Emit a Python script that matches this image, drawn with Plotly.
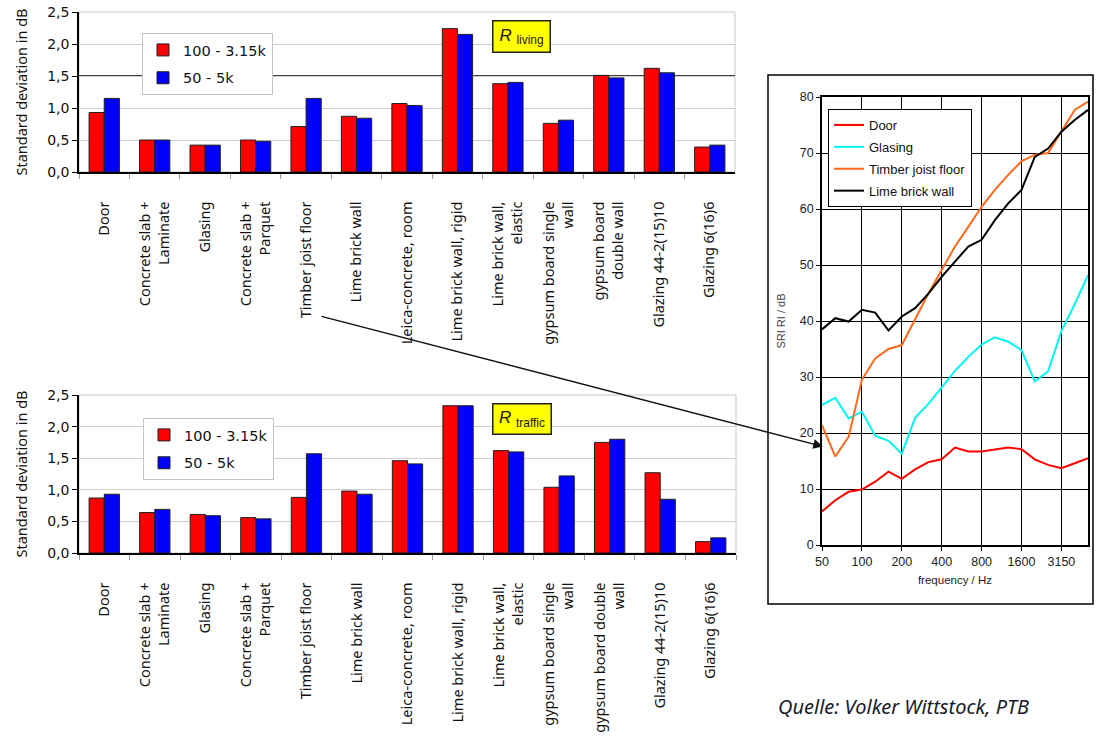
import plotly.graph_objects as go

W, H = 1097, 751

# ---- bar charts: standard deviation of the single-number ratings ----
categories_living = [
    "Door", "Concrete slab +<br>Laminate", "Glasing", "Concrete slab +<br>Parquet",
    "Timber joist floor", "Lime brick wall", "Leica-concrete, room",
    "Lime brick wall, rigid", "Lime brick wall,<br>elastic", "gypsum board single<br>wall",
    "gypsum board<br>double wall", "Glazing 44-2(15)10", "Glazing 6(16)6",
]
categories_traffic = [
    "Door", "Concrete slab +<br>Laminate", "Glasing", "Concrete slab +<br>Parquet",
    "Timber joist floor", "Lime brick wall", "Leica-concrete, room",
    "Lime brick wall, rigid", "Lime brick wall,<br>elastic", "gypsum board single<br>wall",
    "gypsum board double<br>wall", "Glazing 44-2(15)10", "Glazing 6(16)6",
]
living_100_3150 = [0.93, 0.50, 0.42, 0.50, 0.71, 0.87, 1.07, 2.24, 1.38, 0.76, 1.51, 1.62, 0.39]
living_50_5000 = [1.15, 0.50, 0.42, 0.48, 1.15, 0.84, 1.04, 2.15, 1.40, 0.81, 1.47, 1.55, 0.42]
traffic_100_3150 = [0.87, 0.64, 0.61, 0.56, 0.88, 0.98, 1.46, 2.33, 1.62, 1.04, 1.75, 1.27, 0.18]
traffic_50_5000 = [0.93, 0.69, 0.59, 0.54, 1.57, 0.93, 1.41, 2.33, 1.60, 1.22, 1.80, 0.85, 0.24]
range_names = ["100 - 3.15k", "50 - 5k"]
y_ticks = [0, 0.5, 1.0, 1.5, 2.0, 2.5]

# ---- sound reduction index curves ----
freq_bands = ["50", "63", "80", "100", "125", "160", "200", "250", "315", "400", "500",
              "630", "800", "1000", "1250", "1600", "2000", "2500", "3150", "4000", "5000"]
freq_tick_labels = ["50", "100", "200", "400", "800", "1600", "3150"]
sri_door = [6.0, 8.0, 9.5, 9.9, 11.3, 13.1, 11.8, 13.5, 14.8, 15.3, 17.4, 16.7, 16.7,
            17.1, 17.4, 17.1, 15.3, 14.3, 13.7, 14.6, 15.5]
sri_glasing = [25.0, 26.3, 22.6, 23.8, 19.5, 18.6, 16.3, 22.7, 25.2, 28.1, 31.1, 33.6, 35.8,
               37.1, 36.3, 34.8, 29.2, 31.0, 38.2, 43.0, 48.2]
sri_timber = [21.4, 15.8, 19.3, 29.5, 33.3, 35.0, 35.7, 40.2, 44.9, 49.1, 53.3, 56.8, 60.4,
              63.4, 66.1, 68.5, 69.7, 70.0, 73.8, 77.7, 79.2]
sri_lime = [38.5, 40.5, 39.9, 42.0, 41.5, 38.3, 40.8, 42.3, 44.9, 47.9, 50.6, 53.3, 54.5,
            58.0, 61.0, 63.4, 69.3, 70.8, 73.8, 75.9, 77.7]
sri_names = ["Door", "Glasing", "Timber joist floor", "Lime brick wall"]
sri_colors = ["#ff0000", "#00f5f5", "#ff6a1a", "#000000"]

RED, BLUE = "#ff0000", "#0000ff"

fig = go.Figure()

for cats, vals, color, name, xa, ya, leg, grp in [
    (categories_living, living_100_3150, RED, range_names[0], "x", "y", "legend", "a"),
    (categories_living, living_50_5000, BLUE, range_names[1], "x", "y", "legend", "b"),
    (categories_traffic, traffic_100_3150, RED, range_names[0], "x2", "y2", "legend2", "c"),
    (categories_traffic, traffic_50_5000, BLUE, range_names[1], "x2", "y2", "legend2", "d"),
]:
    fig.add_trace(go.Bar(
        x=cats, y=vals, name=name, xaxis=xa, yaxis=ya, legend=leg, legendgroup=grp,
        marker=dict(color=color, line=dict(color="#202020", width=1)),
    ))

for vals, name, color in zip([sri_door, sri_glasing, sri_timber, sri_lime], sri_names, sri_colors):
    fig.add_trace(go.Scatter(
        x=freq_bands, y=vals, name=name, mode="lines", xaxis="x3", yaxis="y3",
        legend="legend3", legendgroup=name, line=dict(color=color, width=2),
    ))

label_font = dict(family="Noto Sans", size=14.5, color="#111")
num_font = dict(family="DejaVu Sans", size=14, color="#111")


def bar_xaxis(domain, anchor):
    return dict(domain=domain, anchor=anchor, type="category", tickangle=-90,
                tickfont=label_font, showline=True, linecolor="#000", linewidth=1.5,
                ticks="outside", tickson="boundaries", ticklen=5, tickcolor="#999",
                ticklabelstandoff=22, automargin=False, showgrid=False)


def bar_yaxis(domain, anchor):
    return dict(domain=domain, anchor=anchor, range=[0, 2.5], tickvals=y_ticks,
                tickformat=".1f", tickfont=num_font, showline=True, linecolor="#000",
                linewidth=1.5, ticks="outside", ticklen=5, tickcolor="#000",
                showgrid=True, gridcolor="#cfcfcf", gridwidth=1, zeroline=False,
                automargin=False,
                title=dict(text="Standard deviation in dB", standoff=16,
                           font=dict(family="Noto Sans", size=14.5, color="#111")))


fig.update_layout(
    width=W, height=H, margin=dict(l=0, r=0, t=0, b=0),
    paper_bgcolor="white", plot_bgcolor="white",
    separators=",.", barmode="group", bargap=0.4, bargroupgap=0,
    showlegend=True,
    xaxis=bar_xaxis([79 / W, 735 / W], "y"),
    yaxis=bar_yaxis([1 - 172 / H, 1 - 12 / H], "x"),
    xaxis2=bar_xaxis([79 / W, 736 / W], "y2"),
    yaxis2=bar_yaxis([1 - 553 / H, 1 - 395 / H], "x2"),
    xaxis3=dict(domain=[822 / W, 1088 / W], anchor="y3", type="category",
                range=[0, 20], tickvals=freq_tick_labels, ticktext=freq_tick_labels,
                tickfont=dict(family="Liberation Sans", size=12.5, color="#222"),
                showline=True, mirror=True, linecolor="#000", linewidth=1.5,
                ticks="outside", ticklen=4, tickcolor="#000",
                showgrid=True, gridcolor="#000", gridwidth=1.3, automargin=False,
                title=dict(text="frequency / Hz", standoff=8,
                           font=dict(family="Liberation Sans", size=11.5, color="#222"))),
    yaxis3=dict(domain=[1 - 545 / H, 1 - 97 / H], anchor="x3", range=[0, 80], dtick=10,
                tickfont=dict(family="Liberation Sans", size=12.5, color="#222"),
                showline=True, mirror=True, linecolor="#000", linewidth=1.5,
                ticks="outside", ticklen=4, tickcolor="#000",
                showgrid=True, gridcolor="#000", gridwidth=1.3, zeroline=False,
                automargin=False,
                title=dict(text="SRI RI / dB", standoff=12,
                           font=dict(family="Liberation Sans", size=11, color="#444"))),
    legend=dict(x=142 / W, y=1 - 33 / H, xanchor="left", yanchor="top",
                bgcolor="white", bordercolor="#c4c4c4", borderwidth=1,
                font=dict(family="DejaVu Sans", size=14.5, color="#111"),
                traceorder="grouped", itemwidth=30, tracegroupgap=6),
    legend2=dict(x=143 / W, y=1 - 418 / H, xanchor="left", yanchor="top",
                 bgcolor="white", bordercolor="#c4c4c4", borderwidth=1,
                 font=dict(family="DejaVu Sans", size=14.5, color="#111"),
                 traceorder="grouped", itemwidth=30, tracegroupgap=6),
    legend3=dict(x=828 / W, y=1 - 109 / H, xanchor="left", yanchor="top",
                 bgcolor="white", bordercolor="#000", borderwidth=1,
                 font=dict(family="Liberation Sans", size=13, color="#111"),
                 traceorder="grouped", itemwidth=30, tracegroupgap=2),
)

shapes = [
    # light frame of the bar plot areas
    dict(type="rect", xref="x domain", yref="y domain", x0=0, x1=1, y0=0, y1=1,
         line=dict(color="#c8c8c8", width=1), layer="below"),
    dict(type="rect", xref="x2 domain", yref="y2 domain", x0=0, x1=1, y0=0, y1=1,
         line=dict(color="#c8c8c8", width=1), layer="below"),
    # 1.5 dB reference line in the upper chart
    dict(type="line", xref="x domain", yref="y", x0=0, x1=1, y0=1.5, y1=1.5,
         line=dict(color="#000", width=1.5), layer="below"),
    # frame round the SRI chart
    dict(type="rect", xref="paper", yref="paper", x0=768 / W, x1=1093 / W,
         y0=1 - 604 / H, y1=1 - 75 / H, line=dict(color="#000", width=1.5)),
]
fig.update_layout(shapes=shapes)

tag_font = dict(family="Liberation Sans", size=17, color="#1a1a00")
annotations = [
    dict(text="<i>R</i> <sub>living</sub>", xref="paper", yref="paper",
         x=521 / W, y=1 - 37 / H, xanchor="center", yanchor="middle", showarrow=False,
         bgcolor="#ffff00", bordercolor="#222", borderwidth=1.5, borderpad=3,
         font=tag_font, width=50, height=24),
    dict(text="<i>R</i> <sub>traffic</sub>", xref="paper", yref="paper",
         x=522 / W, y=1 - 419.5 / H, xanchor="center", yanchor="middle", showarrow=False,
         bgcolor="#ffff00", bordercolor="#222", borderwidth=1.5, borderpad=3,
         font=tag_font, width=51, height=23),
    # pointer from the timber joist floor bars to its SRI curve
    dict(text="", xref="paper", yref="paper", x=823 / W, y=1 - 446.5 / H,
         ax=320 - 823, ay=316 - 446.5, axref="pixel", ayref="pixel",
         showarrow=True, arrowhead=2, arrowsize=1.3, arrowwidth=1.5, arrowcolor="#111",
         standoff=0),
    dict(text="Quelle: Volker Wittstock, PTB", xref="paper", yref="paper",
         x=776 / W, y=1 - 706 / H, xanchor="left", yanchor="middle", showarrow=False,
         font=dict(family="Noto Sans", size=20, color="#1a1a2a", style="italic")),
]
fig.update_layout(annotations=annotations)

fig.write_html("out.html")
